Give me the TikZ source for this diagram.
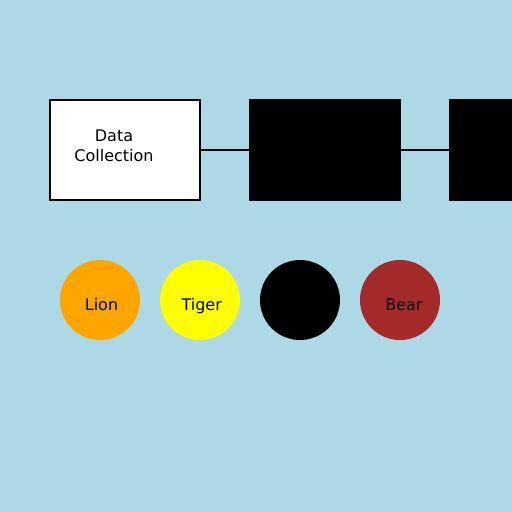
\documentclass[tikz,border=0pt]{standalone}
\usepackage{fontspec}
\setmainfont{DejaVu Sans}
\definecolor{bg}{HTML}{ADD8E6}
\definecolor{lionc}{HTML}{FFA500}
\definecolor{tigerc}{HTML}{FFFF00}
\definecolor{bearc}{HTML}{A52A2A}
\begin{document}
\begin{tikzpicture}[x=1pt,y=-1pt,
  boxw/.style={draw=black,line width=2pt,fill=white},
  boxb/.style={draw=black,line width=2pt,fill=black},
  link/.style={draw=black,line width=2pt},
  animal/.style={circle,minimum size=80pt,inner sep=0pt,draw=none},
  lbl/.style={font=\fontsize{16}{19}\selectfont,text=black,inner sep=0pt,anchor=base}
]
\useasboundingbox (0,0) rectangle (512,512);
\fill[bg] (0,0) rectangle (512,512);
% boxes
\draw[boxw] (50,100) rectangle (200,200);
\node[font=\fontsize{16}{20}\selectfont,align=center,inner sep=0pt] (dc) at (114,146) {Data\\Collection};
\coordinate (b1r) at (200,150);
\draw[boxb] (250,100) rectangle (400,200);
\coordinate (b2l) at (250,150);
\coordinate (b2r) at (400,150);
\draw[boxb] (450,100) rectangle (530,200);
\coordinate (b3l) at (450,150);
\draw[link] (b1r) -- (b2l);
\draw[link] (b2r) -- (b3l);
% circles
\node[animal,fill=lionc] (lion) at (100,300) {};
\node[animal,fill=tigerc] (tiger) at (200,300) {};
\node[animal,fill=black] (eleph) at (300,300) {};
\node[animal,fill=bearc] (bear) at (400,300) {};
\node[lbl] (tl) at (101.5,310) {Lion};
\node[lbl] (tt) at (201.7,310) {Tiger};
\node[lbl,anchor=base east] (te) at (339.5,310) {Elephant};
\node[lbl] (tb) at (404,310) {Bear};
\end{tikzpicture}
\end{document}
